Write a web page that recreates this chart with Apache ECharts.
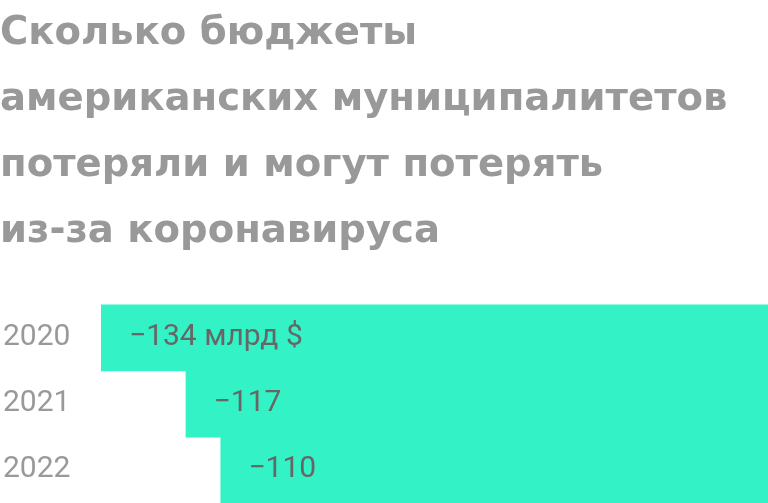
<!DOCTYPE html>
<html><head><meta charset="utf-8">
<script src="https://cdn.jsdelivr.net/npm/echarts@6/dist/echarts.min.js"></script>
<style>html,body{margin:0;padding:0;background:#fff}#c{width:768px;height:503px}</style>
</head><body><div id="c"></div>
<script>
const titleLines = ['Сколько бюджеты', 'американских муниципалитетов', 'потеряли и могут потерять', 'из-за коронавируса'];
const years = ['2020', '2021', '2022'];
const losses = [-134, -117, -110];
const valueLabels = ['−134 млрд $', '−117', '−110'];

const chart = echarts.init(document.getElementById('c'), null, {renderer: 'canvas'});
chart.setOption({
  backgroundColor: '#fff',
  animation: false,
  title: {
    text: titleLines.join('\n'),
    left: 0, top: 1,
    padding: 0,
    textStyle: {fontFamily: 'DejaVu Sans', fontWeight: 'bold', fontSize: 38.6, lineHeight: 66, color: '#999999'}
  },
  grid: {left: 97.7, right: 0, top: 304.5, bottom: 0, containLabel: false},
  xAxis: {type: 'value', min: -134, max: 0, show: false},
  yAxis: {
    type: 'category', data: years, inverse: true,
    axisLine: {show: false}, axisTick: {show: false}, splitLine: {show: false},
    axisLabel: {margin: 98, align: 'left', fontFamily: 'Roboto', fontSize: 30, color: '#999999'}
  },
  series: [{
    type: 'bar', data: losses, barWidth: 67.5,
    itemStyle: {color: '#33F3C6'},
    label: {
      show: true, position: 'insideLeft', distance: 28, fontFamily: 'Roboto', fontSize: 30, color: '#666666',
      formatter: p => valueLabels[p.dataIndex]
    }
  }]
});
</script></body></html>
